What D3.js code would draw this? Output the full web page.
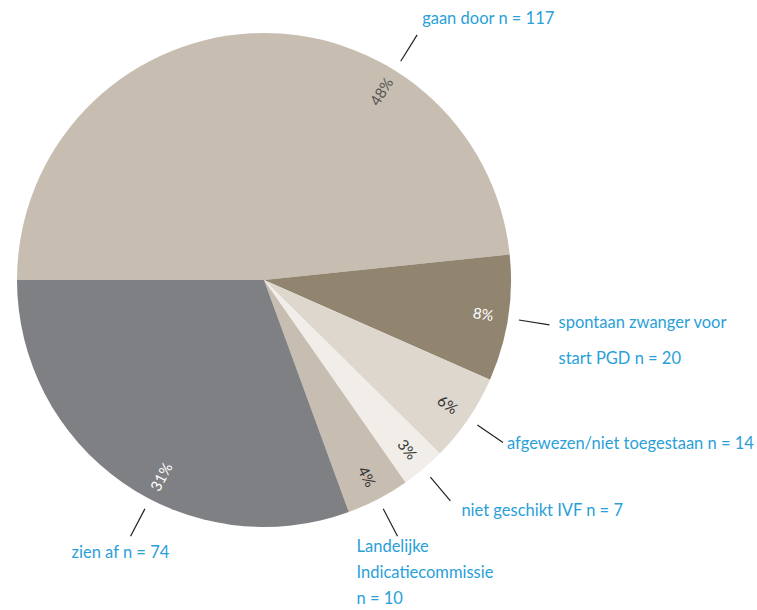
<!DOCTYPE html>
<html>
<head>
<meta charset="utf-8">
<script src="https://cdn.jsdelivr.net/npm/d3@7"></script>
<style>
  body { margin: 0; background: #fff; }
  svg text { font-family: Lato, "Open Sans", sans-serif; }
</style>
</head>
<body>
<div class="chart"></div>
<script>
// data
var categories = ["gaan door", "spontaan zwanger voor start PGD", "afgewezen/niet toegestaan",
                  "niet geschikt IVF", "Landelijke Indicatiecommissie", "zien af"];
var counts = [117, 20, 14, 7, 10, 74];
var pctLabels = ["48%", "8%", "6%", "3%", "4%", "31%"];
var labelLines = [
  ["gaan door n = 117"],
  ["spontaan zwanger voor", "start PGD n = 20"],
  ["afgewezen/niet toegestaan n = 14"],
  ["niet geschikt IVF n = 7"],
  ["Landelijke", "Indicatiecommissie", "n = 10"],
  ["zien af n = 74"]
];

// layout
var width = 757, height = 610,
    cx = 264, cy = 280, radius = 247;
var colors = ["#c7bdb0", "#918570", "#ddd7cd", "#f1eee9", "#c7bdb0", "#7f8084"];
var pctColors = ["#555", "#fff", "#333", "#333", "#333", "#fff"];
// label angle overrides (degrees, clockwise from top) for the big slices
var angleOverride = {0: 32, 5: 207.5};
// label text offset from the outer end of the leader line + line spacing
var labelOffset = [
  {dx: 5, dy: -11, lh: 0},
  {dx: 9, dy: 3, lh: 36},
  {dx: 4, dy: 6, lh: 0},
  {dx: 11, dy: 15, lh: 0},
  {dx: -41, dy: 16, lh: 26},
  {dx: -59, dy: 22, lh: 0}
];

var svg = d3.select(".chart")
  .append("svg")
    .attr("width", width)
    .attr("height", height);

var g = svg.append("g")
  .attr("transform", "translate(" + cx + "," + cy + ")");

var pie = d3.pie()
  .value(function(d) { return d; })
  .sort(null)
  .startAngle(-Math.PI / 2)
  .endAngle(1.5 * Math.PI);

var arcs = pie(counts);

var arc = d3.arc().innerRadius(0).outerRadius(radius);

g.selectAll("path.slice")
  .data(arcs)
  .enter()
  .append("path")
    .attr("class", "slice")
    .attr("d", arc)
    .attr("fill", function(d, i) { return colors[i]; });

function labelAngle(d, i) {
  if (angleOverride[i] !== undefined) return angleOverride[i];
  return (d.startAngle + d.endAngle) / 2 * 180 / Math.PI;
}
function polar(deg, r) {
  var a = deg * Math.PI / 180;
  return [Math.sin(a) * r, -Math.cos(a) * r];
}

// percentages, rotated along the radius
g.selectAll("text.pct")
  .data(arcs)
  .enter()
  .append("text")
    .attr("class", "pct")
    .attr("text-anchor", "middle")
    .attr("dy", "0.35em")
    .attr("font-size", 15)
    .attr("fill", function(d, i) { return pctColors[i]; })
    .attr("transform", function(d, i) {
      var deg = labelAngle(d, i);
      var p = polar(deg, 222);
      var rot = deg - 90;
      if (deg > 180) rot -= 180;
      return "translate(" + p[0] + "," + p[1] + ") rotate(" + rot + ")";
    })
    .text(function(d, i) { return pctLabels[i]; });

// leader lines
g.selectAll("line.leader")
  .data(arcs)
  .enter()
  .append("line")
    .attr("class", "leader")
    .attr("stroke", "#222")
    .attr("stroke-width", 1.2)
    .attr("x1", function(d, i) { return polar(labelAngle(d, i), 258)[0]; })
    .attr("y1", function(d, i) { return polar(labelAngle(d, i), 258)[1]; })
    .attr("x2", function(d, i) { return polar(labelAngle(d, i), 289)[0]; })
    .attr("y2", function(d, i) { return polar(labelAngle(d, i), 289)[1]; });

// category labels
var lbl = g.selectAll("text.cat")
  .data(arcs)
  .enter()
  .append("text")
    .attr("class", "cat")
    .attr("font-size", 16.5)
    .attr("fill", "#2a9fd8")
    .attr("x", function(d, i) { return polar(labelAngle(d, i), 289)[0] + labelOffset[i].dx; })
    .attr("y", function(d, i) { return polar(labelAngle(d, i), 289)[1] + labelOffset[i].dy; });

lbl.each(function(d, i) {
  var t = d3.select(this);
  var x0 = t.attr("x");
  labelLines[i].forEach(function(s, j) {
    t.append("tspan")
      .attr("x", x0)
      .attr("dy", j === 0 ? 0 : labelOffset[i].lh)
      .text(s);
  });
});
</script>
</body>
</html>
